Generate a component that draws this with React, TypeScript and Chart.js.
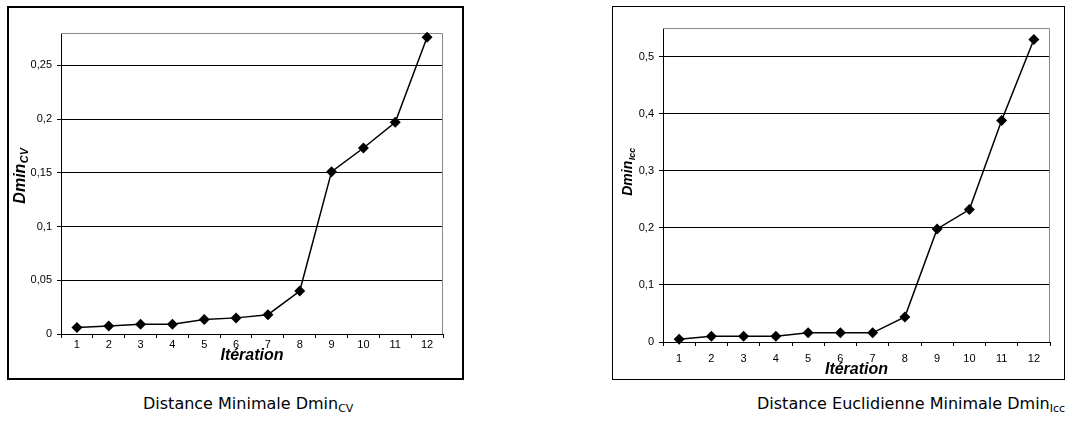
import React, { useEffect, useRef } from "react";
import { Chart, registerables } from "chart.js";

Chart.register(...registerables);

// ---------- data ----------
const iterations = ["1", "2", "3", "4", "5", "6", "7", "8", "9", "10", "11", "12"];
const dminCV = [0.006, 0.0075, 0.009, 0.009, 0.0135, 0.015, 0.018, 0.04, 0.151, 0.173, 0.197, 0.276];
const dminIcc = [0.005, 0.01, 0.01, 0.01, 0.016, 0.016, 0.016, 0.044, 0.198, 0.232, 0.388, 0.53];
const cvAxis = { max: 0.28, step: 0.05 };
const iccAxis = { max: 0.55, step: 0.1 };
const xTitle = "Itération";
const cvTitle = { main: "Dmin", sub: "CV" };
const iccTitle = { main: "Dmin", sub: "Icc" };

const FONT = "'Liberation Sans', Arial, sans-serif";

const fmt = (v: number) => String(Math.round(Number(v) * 1000) / 1000).replace(".", ",");

const framePlugin = {
  id: "frameTitle",
  beforeDatasetsDraw(chart: any) {
    const { ctx, chartArea: a } = chart;
    ctx.save();
    ctx.strokeStyle = "#8a8a8a";
    ctx.lineWidth = 1;
    ctx.beginPath();
    ctx.moveTo(a.left, Math.round(a.top) + 0.5);
    ctx.lineTo(Math.round(a.right) - 0.5, Math.round(a.top) + 0.5);
    ctx.lineTo(Math.round(a.right) - 0.5, a.bottom);
    ctx.stroke();
    ctx.restore();
  },
  afterDraw(chart: any, _args: any, opts: any) {
    if (!opts || !opts.main) return;
    const { ctx } = chart;
    ctx.save();
    ctx.translate(opts.x, opts.y);
    ctx.rotate(-Math.PI / 2);
    ctx.fillStyle = "#000";
    ctx.textBaseline = "alphabetic";
    ctx.textAlign = "left";
    const mainFont = `italic bold ${opts.size}px ${FONT}`;
    const subFont = `italic bold ${opts.subSize}px ${FONT}`;
    ctx.font = mainFont;
    const wm = ctx.measureText(opts.main).width;
    ctx.font = subFont;
    const ws = ctx.measureText(opts.sub).width;
    const start = -(wm + ws) / 2;
    ctx.font = mainFont;
    ctx.fillText(opts.main, start, 0);
    ctx.font = subFont;
    ctx.fillText(opts.sub, start + wm + 0.5, 3);
    ctx.restore();
  },
};

type Cfg = {
  values: number[];
  max: number;
  step: number;
  width: number;
  height: number;
  pad: { top: number; right: number };
  yWidth: number;
  xHeight: number;
  xTickPad: number;
  xTitlePad: number;
  title: { main: string; sub: string };
  titlePos: { x: number; y: number; size: number; subSize: number };
};

function LineChart({ cfg }: { cfg: Cfg }) {
  const ref = useRef<HTMLCanvasElement>(null);
  useEffect(() => {
    if (!ref.current) return;
    const chart = new Chart(ref.current, {
      type: "line",
      data: {
        labels: iterations,
        datasets: [
          {
            data: cfg.values,
            borderColor: "#000",
            borderWidth: 1.5,
            pointStyle: "rectRot",
            pointRadius: 5.5,
            pointBackgroundColor: "#000",
            pointBorderColor: "#000",
            pointBorderWidth: 0,
            tension: 0,
            clip: false as any,
          },
        ],
      },
      options: {
        responsive: false,
        animation: false,
        layout: { padding: { top: cfg.pad.top, right: cfg.pad.right, left: 0, bottom: 0 } },
        plugins: {
          legend: { display: false },
          tooltip: { enabled: false },
          frameTitle: {
            main: cfg.title.main,
            sub: cfg.title.sub,
            x: cfg.titlePos.x,
            y: cfg.titlePos.y,
            size: cfg.titlePos.size,
            subSize: cfg.titlePos.subSize,
          },
        } as any,
        scales: {
          x: {
            type: "category",
            offset: true,
            grid: { offset: true, drawOnChartArea: false, drawTicks: true, tickLength: 4, color: "#000" },
            border: { display: true, color: "#000", width: 1 },
            ticks: {
              color: "#000",
              font: { family: FONT, size: 11 },
              padding: cfg.xTickPad,
              autoSkip: false,
              maxRotation: 0,
            },
            title: {
              display: true,
              text: xTitle,
              color: "#000",
              font: { family: FONT, size: 16, weight: "bold", style: "italic" },
              padding: { top: 0, bottom: cfg.xTitlePad },
            },
            afterFit: (s: any) => {
              s.height = cfg.xHeight;
            },
          },
          y: {
            type: "linear",
            min: 0,
            max: cfg.max,
            bounds: "data",
            ticks: {
              stepSize: cfg.step,
              includeBounds: false,
              color: "#000",
              font: { family: FONT, size: 11 },
              padding: 5,
              callback: (v: any) => fmt(v),
            },
            afterBuildTicks: (s: any) => {
              s.ticks = s.ticks.filter((t: any) => {
                const r = t.value / cfg.step;
                return Math.abs(r - Math.round(r)) < 1e-6;
              });
            },
            grid: { color: "#000", lineWidth: 1, tickLength: 4 },
            border: { display: true, color: "#000", width: 1 },
            afterFit: (s: any) => {
              s.width = cfg.yWidth;
            },
          },
        },
      } as any,
      plugins: [framePlugin as any],
    });
    return () => chart.destroy();
  }, [cfg]);
  return <canvas ref={ref} width={cfg.width} height={cfg.height} style={{ display: "block" }} />;
}

const leftCfg: Cfg = {
  values: dminCV,
  max: cvAxis.max,
  step: cvAxis.step,
  width: 453,
  height: 370,
  pad: { top: 25, right: 19 },
  yWidth: 52,
  xHeight: 44,
  xTickPad: 0,
  xTitlePad: 13,
  title: cvTitle,
  titlePos: { x: 16, y: 168, size: 16, subSize: 11 },
};

const rightCfg: Cfg = {
  values: dminIcc,
  max: iccAxis.max,
  step: iccAxis.step,
  width: 451,
  height: 372,
  pad: { top: 21, right: 14 },
  yWidth: 50,
  xHeight: 37,
  xTickPad: 6,
  xTitlePad: 0,
  title: iccTitle,
  titlePos: { x: 19, y: 165, size: 14, subSize: 9 },
};

const captionStyle: React.CSSProperties = {
  position: "absolute",
  fontFamily: "'DejaVu Sans', Verdana, sans-serif",
  fontSize: 16,
  lineHeight: "19px",
  color: "#000",
  whiteSpace: "nowrap",
};
const subStyle: React.CSSProperties = { fontSize: 11, verticalAlign: "-3px", lineHeight: 0 };

export default function App() {
  return (
    <div style={{ position: "absolute", left: 0, top: 0, width: 1077, height: 423, background: "#fff" }}>
      <div style={{ position: "absolute", left: 7, top: 6, border: "2px solid #000" }}>
        <LineChart cfg={leftCfg} />
      </div>
      <div style={{ position: "absolute", left: 612, top: 6, border: "1px solid #000" }}>
        <LineChart cfg={rightCfg} />
      </div>
      <div style={{ ...captionStyle, left: 143, top: 394 }}>
        Distance Minimale Dmin<span style={subStyle}>CV</span>
      </div>
      <div style={{ ...captionStyle, left: 757, top: 394 }}>
        Distance Euclidienne Minimale Dmin<span style={subStyle}>Icc</span>
      </div>
    </div>
  );
}
